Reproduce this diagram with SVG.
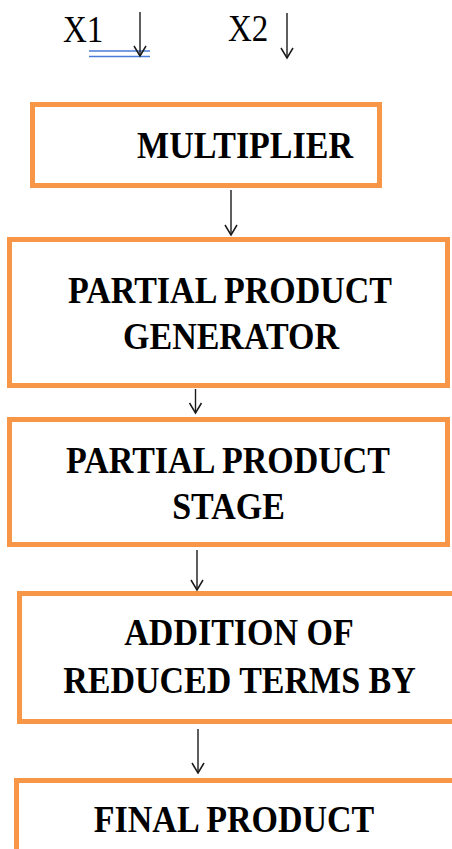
<svg xmlns="http://www.w3.org/2000/svg" width="452" height="849" viewBox="0 0 452 849">
  <style>
    .box { fill: #ffffff; stroke: #F79646; stroke-width: 5; }
    .lbl { font-family: "Liberation Serif", "Times New Roman", Tinos, "DejaVu Serif", serif; font-weight: bold; font-size: 34px; fill: #000; text-anchor: middle; }
    .inp { font-family: "Liberation Serif", "Times New Roman", Tinos, "DejaVu Serif", serif; font-size: 33px; fill: #000; }
    .wire { fill: none; stroke: #1a1a1a; stroke-width: 1.4; marker-end: url(#head); }
    .uline { stroke: #4a7bd8; stroke-width: 1.6; }
  </style>
  <defs>
    <marker id="head" markerUnits="userSpaceOnUse" markerWidth="20" markerHeight="20" refX="0" refY="0" orient="auto" overflow="visible">
      <path d="M-10,-6 L0,0 L-10,6" fill="none" stroke="#1a1a1a" stroke-width="1.5"/>
    </marker>
  </defs>
  <rect width="452" height="849" fill="#ffffff"/>

  <!-- inputs -->
  <g id="inputs">
    <text class="inp" transform="translate(63,42) scale(1,1.14)">X1</text>
    <text class="inp" transform="translate(228,41) scale(1,1.14)">X2</text>
    <line class="uline" x1="89" y1="51" x2="150" y2="51"/>
    <line class="uline" x1="89" y1="56.5" x2="150" y2="56.5"/>
  </g>

  <!-- blocks -->
  <g id="multiplier">
    <rect class="box" x="32.5" y="104.5" width="347" height="81"/>
    <text class="lbl" transform="translate(245,158) scale(1,1.14)">MULTIPLIER</text>
  </g>
  <g id="pp-generator">
    <rect class="box" x="9.5" y="239.5" width="438" height="146"/>
    <text class="lbl" transform="translate(230,303) scale(1,1.14)">PARTIAL PRODUCT</text>
    <text class="lbl" transform="translate(231,349) scale(1,1.14)">GENERATOR</text>
  </g>
  <g id="pp-stage">
    <rect class="box" x="9.5" y="419.5" width="438" height="125"/>
    <text class="lbl" transform="translate(228,473) scale(1,1.14)">PARTIAL PRODUCT</text>
    <text class="lbl" transform="translate(228.5,519) scale(1,1.14)">STAGE</text>
  </g>
  <g id="addition">
    <rect class="box" x="19.5" y="593.5" width="460" height="128"/>
    <text class="lbl" transform="translate(239,645) scale(1,1.14)">ADDITION OF</text>
    <text class="lbl" transform="translate(239.5,693) scale(1,1.14)">REDUCED TERMS BY</text>
  </g>
  <g id="final-product">
    <rect class="box" x="16.5" y="780.5" width="460" height="100"/>
    <text class="lbl" transform="translate(234,832) scale(1,1.14)">FINAL PRODUCT</text>
  </g>

  <!-- connectors -->
  <g id="connectors">
    <path class="wire" d="M140,12 V56"/>
    <path class="wire" d="M287,13 V58"/>
    <path class="wire" d="M231,190 V235"/>
    <path class="wire" d="M195.5,389 V413"/>
    <path class="wire" d="M197,550 V590"/>
    <path class="wire" d="M198,729 V773"/>
  </g>
</svg>
